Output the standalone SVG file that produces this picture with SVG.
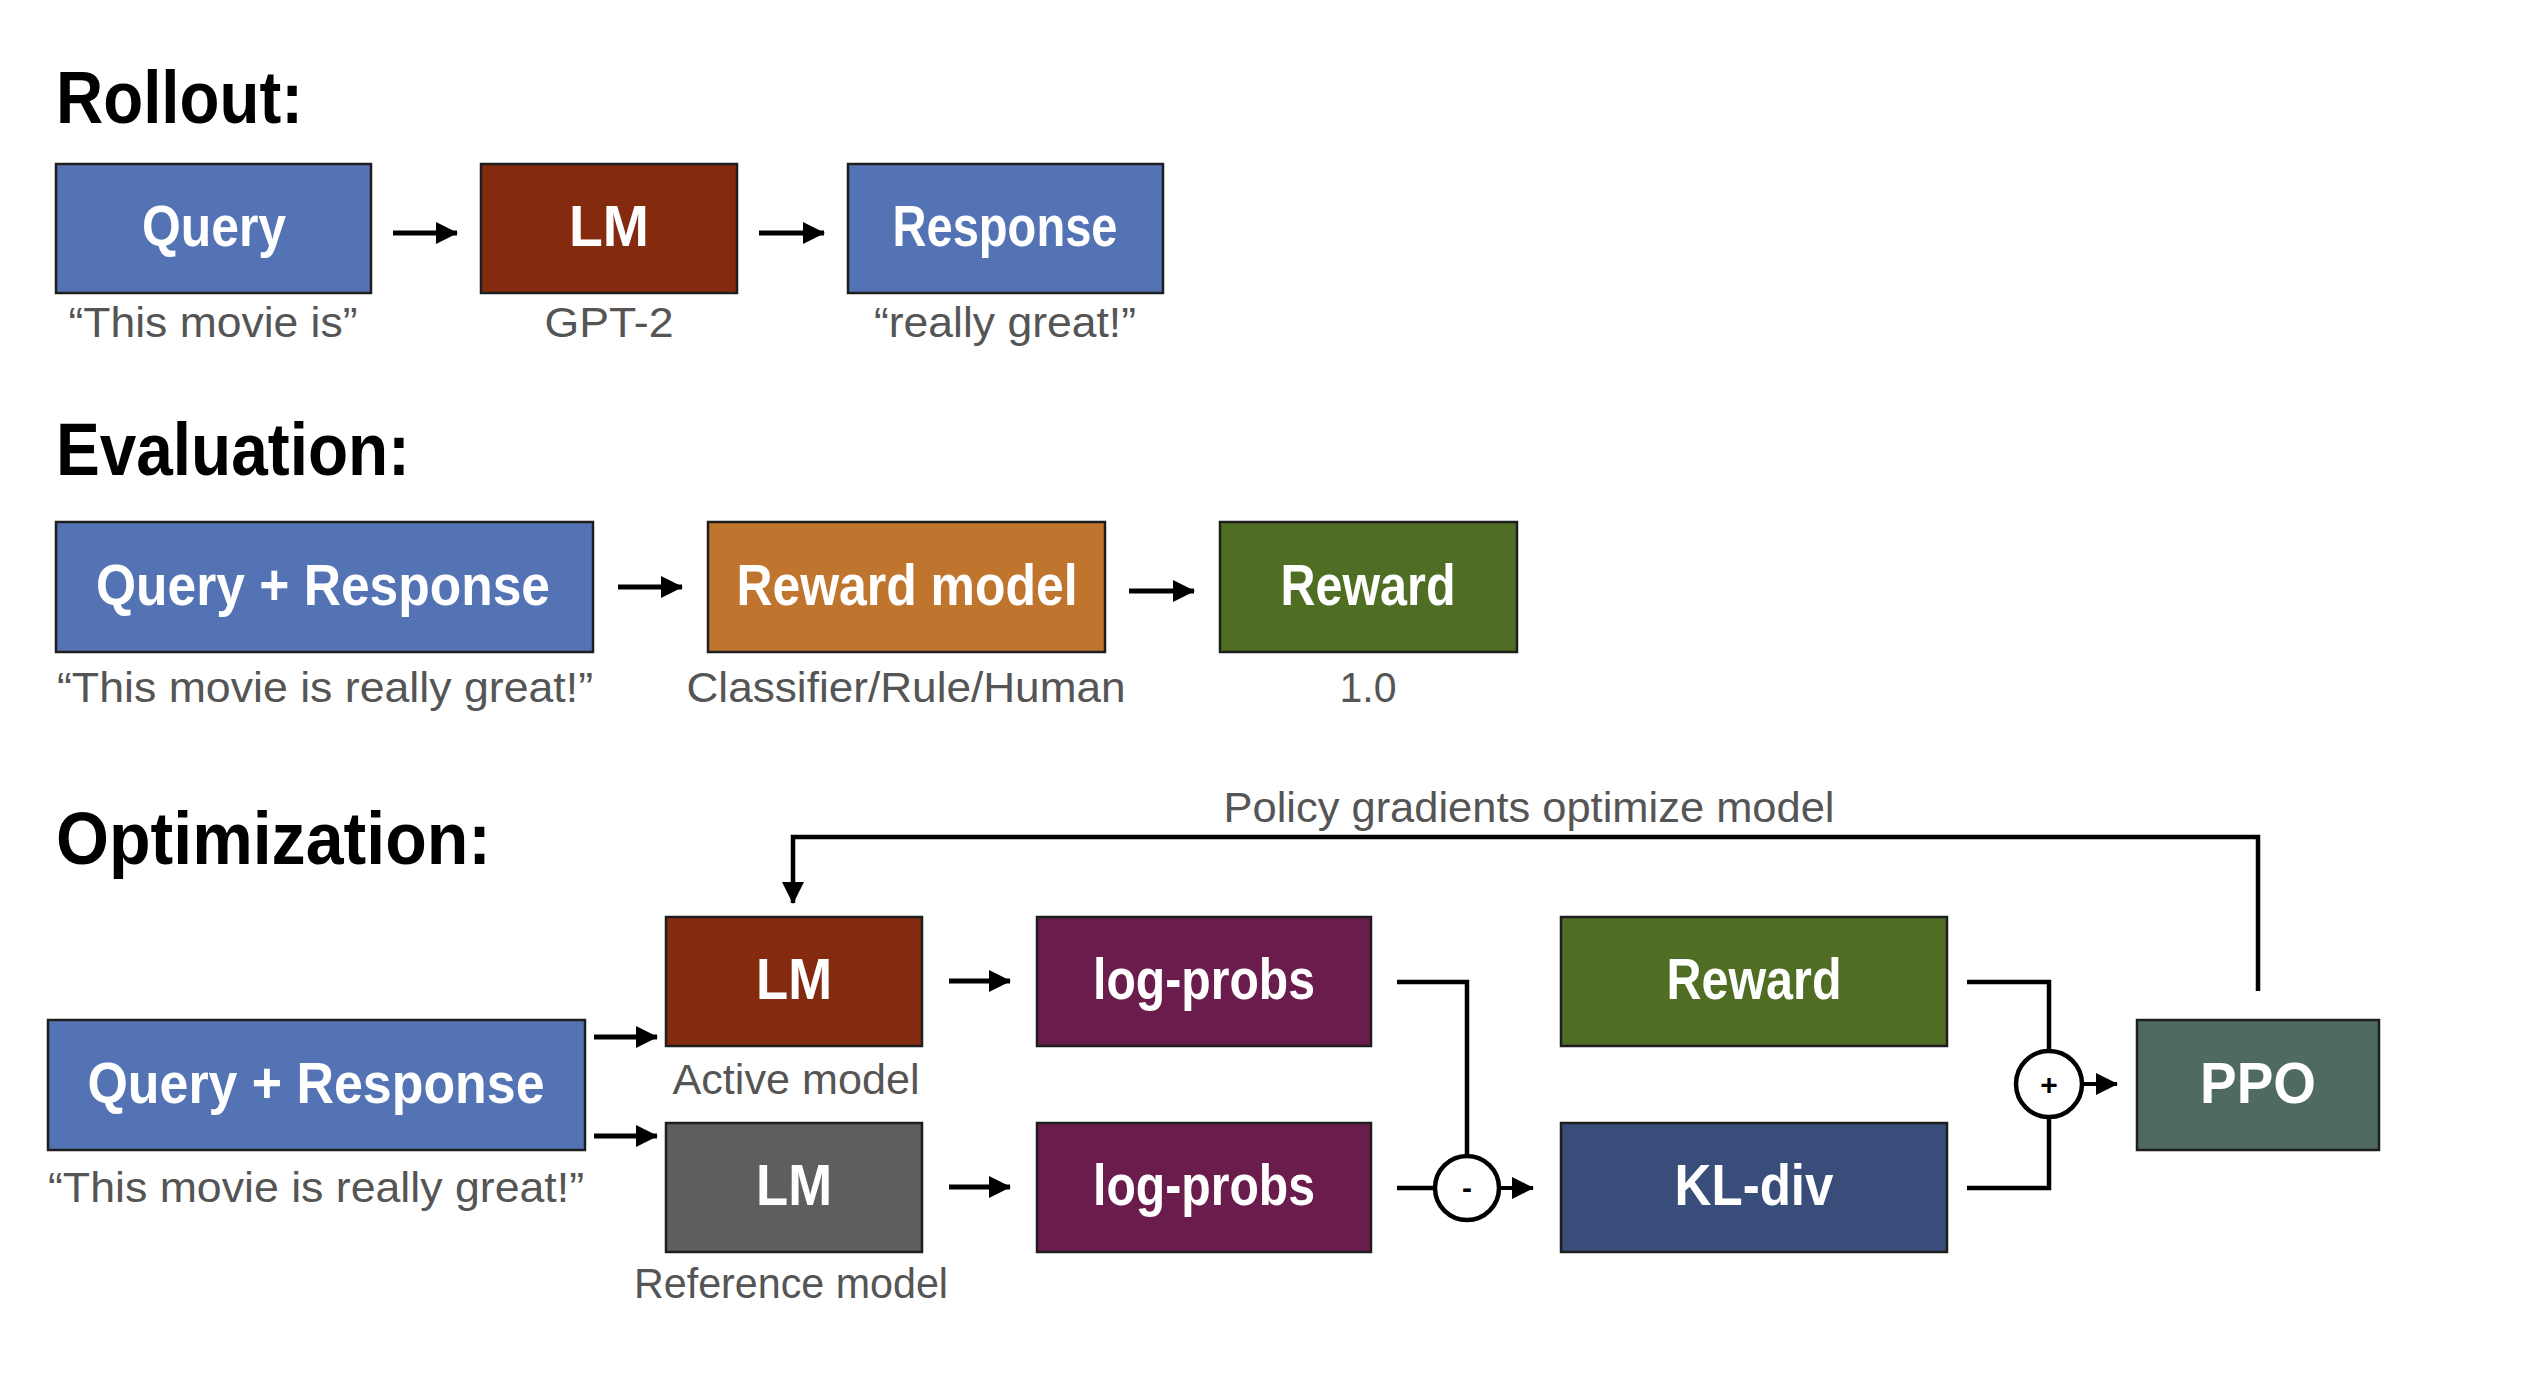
<svg xmlns="http://www.w3.org/2000/svg" width="2523" height="1381" viewBox="0 0 2523 1381">
<defs>
<marker id="ah" markerUnits="userSpaceOnUse" markerWidth="22" markerHeight="22" viewBox="0 0 22 22" refX="21" refY="11" orient="auto">
<path d="M0,0 L22,11 L0,22 z" fill="#000"/>
</marker>
<style>
.bg{fill:#fff}
.box{stroke:#1e1e1e;stroke-width:2.5}
.bt{font-family:"Liberation Sans",Arial,sans-serif;font-weight:bold;font-size:58px;fill:#fff;text-anchor:middle}
.lb{font-family:"Liberation Sans",Arial,sans-serif;font-size:42px;fill:#555;text-anchor:middle}
.hd{font-family:"Liberation Sans",Arial,sans-serif;font-weight:bold;font-size:74px;fill:#000}
.ar{stroke:#000;stroke-width:5;fill:none;marker-end:url(#ah)}
.ln{stroke:#000;stroke-width:4.5;fill:none}
.op{fill:#fff;stroke:#000;stroke-width:4.5}
.ot{font-family:"Liberation Sans",Arial,sans-serif;font-size:30px;font-weight:bold;fill:#000;text-anchor:middle}
.blue{fill:#5473B4}.brown{fill:#832A0F}.orange{fill:#C0752F}.green{fill:#4F6E24}
.grey{fill:#5E5E5E}.purple{fill:#6A1C4C}.navy{fill:#394D7A}.teal{fill:#4E6A62}
</style>
</defs>
<rect class="bg" x="0" y="0" width="2523" height="1381"/>

<!-- Headings -->
<text class="hd" x="56" y="123" textLength="247" lengthAdjust="spacingAndGlyphs">Rollout:</text>
<text class="hd" x="56" y="475" textLength="354" lengthAdjust="spacingAndGlyphs">Evaluation:</text>
<text class="hd" x="56" y="864" textLength="435" lengthAdjust="spacingAndGlyphs">Optimization:</text>

<!-- Rollout -->
<g id="r-query">
<rect class="box blue" x="56" y="164" width="315" height="129"/>
<text class="bt" x="214" y="246" textLength="144" lengthAdjust="spacingAndGlyphs">Query</text>
<text class="lb" x="213" y="337" textLength="289" lengthAdjust="spacingAndGlyphs">“This movie is”</text>
</g>
<g id="r-lm">
<rect class="box brown" x="481" y="164" width="256" height="129"/>
<text class="bt" x="609" y="246" textLength="80" lengthAdjust="spacingAndGlyphs">LM</text>
<text class="lb" x="609" y="337" textLength="129" lengthAdjust="spacingAndGlyphs">GPT-2</text>
</g>
<g id="r-response">
<rect class="box blue" x="848" y="164" width="315" height="129"/>
<text class="bt" x="1005" y="246" textLength="225" lengthAdjust="spacingAndGlyphs">Response</text>
<text class="lb" x="1005" y="337" textLength="262" lengthAdjust="spacingAndGlyphs">“really great!”</text>
</g>

<!-- Evaluation -->
<g id="e-qr">
<rect class="box blue" x="56" y="522" width="537" height="130"/>
<text class="bt" x="323" y="605" textLength="454" lengthAdjust="spacingAndGlyphs">Query + Response</text>
<text class="lb" x="325" y="702" textLength="536" lengthAdjust="spacingAndGlyphs">“This movie is really great!”</text>
</g>
<g id="e-rm">
<rect class="box orange" x="708" y="522" width="397" height="130"/>
<text class="bt" x="907" y="605" textLength="341" lengthAdjust="spacingAndGlyphs">Reward model</text>
<text class="lb" x="906" y="702" textLength="439" lengthAdjust="spacingAndGlyphs">Classifier/Rule/Human</text>
</g>
<g id="e-reward">
<rect class="box green" x="1220" y="522" width="297" height="130"/>
<text class="bt" x="1368" y="605" textLength="175" lengthAdjust="spacingAndGlyphs">Reward</text>
<text class="lb" x="1368" y="702" textLength="57" lengthAdjust="spacingAndGlyphs">1.0</text>
</g>

<!-- Optimization -->
<g id="o-qr">
<rect class="box blue" x="48" y="1020" width="537" height="130"/>
<text class="bt" x="316" y="1103" textLength="457" lengthAdjust="spacingAndGlyphs">Query + Response</text>
<text class="lb" x="316" y="1202" textLength="536" lengthAdjust="spacingAndGlyphs">“This movie is really great!”</text>
</g>
<g id="o-lm-active">
<rect class="box brown" x="666" y="917" width="256" height="129"/>
<text class="bt" x="794" y="999" textLength="76" lengthAdjust="spacingAndGlyphs">LM</text>
<text class="lb" x="796" y="1094" textLength="247" lengthAdjust="spacingAndGlyphs">Active model</text>
</g>
<g id="o-lm-ref">
<rect class="box grey" x="666" y="1123" width="256" height="129"/>
<text class="bt" x="794" y="1205" textLength="76" lengthAdjust="spacingAndGlyphs">LM</text>
<text class="lb" x="791" y="1298" textLength="314" lengthAdjust="spacingAndGlyphs">Reference model</text>
</g>
<g id="o-logp-active">
<rect class="box purple" x="1037" y="917" width="334" height="129"/>
<text class="bt" x="1204" y="999" textLength="222" lengthAdjust="spacingAndGlyphs">log-probs</text>
</g>
<g id="o-logp-ref">
<rect class="box purple" x="1037" y="1123" width="334" height="129"/>
<text class="bt" x="1204" y="1205" textLength="222" lengthAdjust="spacingAndGlyphs">log-probs</text>
</g>
<g id="o-reward">
<rect class="box green" x="1561" y="917" width="386" height="129"/>
<text class="bt" x="1754" y="999" textLength="175" lengthAdjust="spacingAndGlyphs">Reward</text>
</g>
<g id="o-kl">
<rect class="box navy" x="1561" y="1123" width="386" height="129"/>
<text class="bt" x="1754" y="1205" textLength="159" lengthAdjust="spacingAndGlyphs">KL-div</text>
</g>
<g id="o-ppo">
<rect class="box teal" x="2137" y="1020" width="242" height="130"/>
<text class="bt" x="2258" y="1103" textLength="116" lengthAdjust="spacingAndGlyphs">PPO</text>
</g>
<g id="o-minus">
<circle class="op" cx="1467" cy="1188" r="32"/>
<text class="ot" x="1467" y="1198">-</text>
</g>
<g id="o-plus">
<circle class="op" cx="2049" cy="1084" r="33"/>
<text class="ot" x="2049" y="1095" font-size="28" font-weight="normal">+</text>
</g>

<!-- Connectors -->
<g id="connectors">
<line class="ar" x1="393" y1="233" x2="457" y2="233"/>
<line class="ar" x1="759" y1="233" x2="824" y2="233"/>
<line class="ar" x1="618" y1="587" x2="682" y2="587"/>
<line class="ar" x1="1129" y1="591" x2="1194" y2="591"/>
<line class="ar" x1="594" y1="1037" x2="657" y2="1037"/>
<line class="ar" x1="594" y1="1136" x2="657" y2="1136"/>
<line class="ar" x1="949" y1="981" x2="1010" y2="981"/>
<line class="ar" x1="949" y1="1187" x2="1010" y2="1187"/>
<path class="ln" d="M1397,982 H1467 V1156"/>
<path class="ln" d="M1397,1188 H1435"/>
<line class="ar" x1="1499" y1="1188" x2="1533" y2="1188" style="stroke-width:4"/>
<path class="ln" d="M1967,982 H2049 V1051"/>
<path class="ln" d="M1967,1188 H2049 V1117"/>
<line class="ar" x1="2082" y1="1084" x2="2117" y2="1084" style="stroke-width:4"/>
<path class="ar" d="M2258,991 V837 H793 V903" style="stroke-width:4.5"/>
<text class="lb" x="1529" y="822" textLength="611" lengthAdjust="spacingAndGlyphs">Policy gradients optimize model</text>
</g>
</svg>
